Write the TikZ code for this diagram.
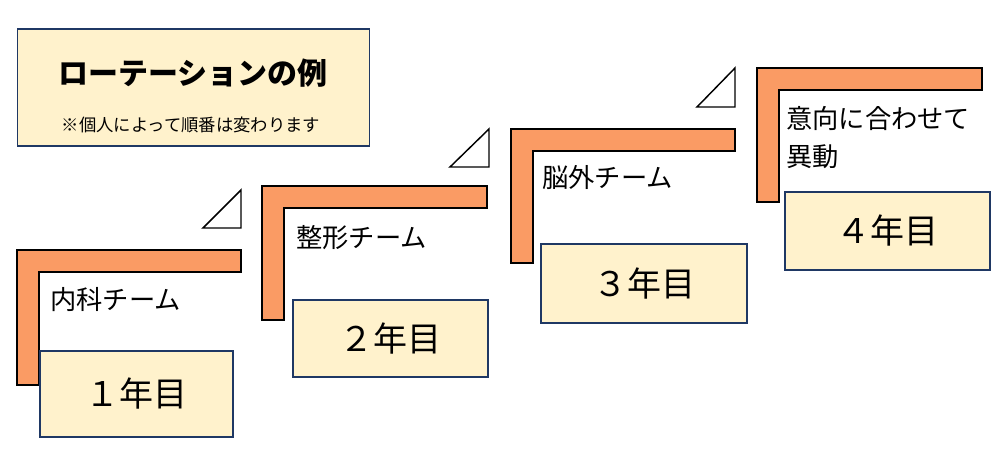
\documentclass[tikz,border=0pt]{standalone}
\usepackage{fontspec}
\setmainfont{Noto Sans CJK JP}
\usepackage{tikz}
\definecolor{stairorange}{RGB}{250,155,100}
\definecolor{boxcream}{RGB}{255,242,204}
\definecolor{boxnavy}{RGB}{31,56,100}
\tikzstyle{stair}=[draw=black,fill=stairorange,line width=1.1pt]
\tikzstyle{wedge}=[draw=black,fill=white,line width=1.1pt]
\tikzstyle{yearbox}=[draw=boxnavy,fill=boxcream,line width=1.1pt,
                     inner sep=0pt,font=\fontsize{25.5}{25.5}\selectfont]
\tikzstyle{team}=[anchor=west,inner sep=0pt,align=left,
                  font=\fontsize{19.7}{29}\selectfont]

\begin{document}
\begin{tikzpicture}[x=0.75pt,y=-0.75pt]
    \newcommand{\px}{0.75pt}
    \useasboundingbox (0,0) rectangle (1000,449);
    % title
    \node (title) at (193.5,87.5) [draw=boxnavy,fill=boxcream,line width=1.1pt,
          minimum width=352*\px,minimum height=117*\px]{};
    \node (head) at (193,73) [font=\fontsize{22.5}{22.5}\selectfont\bfseries]{ローテーションの例};
    \node (note) at (191,125) [font=\fontsize{13}{13}\selectfont]{※個人によって順番は変わります};
    % stairs
    \draw[stair] (17,250) -- ++(224,0) -- ++(0,22) -- ++(-202,0) -- ++(0,113) -- ++(-22,0) -- cycle;
    \draw[stair] (262,186) -- ++(225,0) -- ++(0,22) -- ++(-203,0) -- ++(0,112) -- ++(-22,0) -- cycle;
    \draw[stair] (511,129) -- ++(224,0) -- ++(0,22) -- ++(-202,0) -- ++(0,112) -- ++(-22,0) -- cycle;
    \draw[stair] (757,68) -- ++(225,0) -- ++(0,22) -- ++(-203,0) -- ++(0,112) -- ++(-22,0) -- cycle;
    \draw[wedge] (203,228) -- ++(38,-38) -- ++(0,38) -- cycle;
    \draw[wedge] (450,167) -- ++(39,-38) -- ++(0,38) -- cycle;
    \draw[wedge] (697,107) -- ++(38,-39) -- ++(0,39) -- cycle;
    % years
    \node (y1) at (136.5,394) [yearbox,minimum width=193*\px,minimum height=86*\px]{１年目};
    \node (y2) at (390.5,338.5) [yearbox,minimum width=195*\px,minimum height=77*\px]{２年目};
    \node (y3) at (644,283.5) [yearbox,minimum width=206*\px,minimum height=79*\px]{３年目};
    \node (y4) at (887.5,231) [yearbox,minimum width=205*\px,minimum height=78*\px]{４年目};
    % teams
    \node (t1) at (50,300) [team]{内科チーム};
    \node (t2) at (296,238) [team]{整形チーム};
    \node (t3) at (542,178) [team]{脳外チーム};
    \node (t4) at (786,137.5) [team]{意向に合わせて\\異動};
  \end{tikzpicture}
\end{document}
